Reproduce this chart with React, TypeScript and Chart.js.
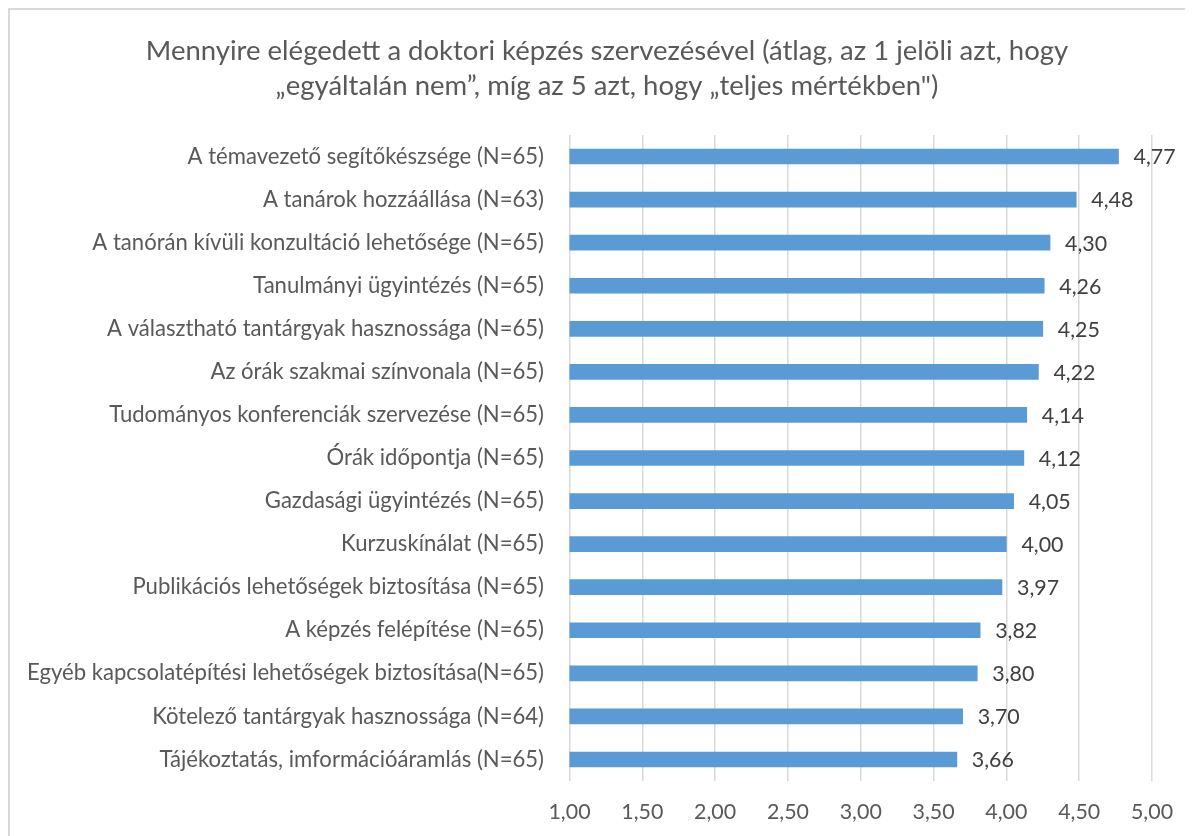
import React, { useEffect, useRef } from "react";
import { Chart, registerables } from "chart.js";

Chart.register(...registerables);

const titleLines = [
  "Mennyire elégedett a doktori képzés szervezésével (átlag, az 1 jelöli azt, hogy",
  "„egyáltalán nem”, míg az 5 azt, hogy „teljes mértékben\")",
];

const categories = [
  "A témavezető segítőkészsége (N=65)",
  "A tanárok hozzáállása (N=63)",
  "A tanórán kívüli konzultáció lehetősége (N=65)",
  "Tanulmányi ügyintézés (N=65)",
  "A választható tantárgyak hasznossága (N=65)",
  "Az órák szakmai színvonala (N=65)",
  "Tudományos konferenciák szervezése (N=65)",
  "Órák időpontja (N=65)",
  "Gazdasági ügyintézés (N=65)",
  "Kurzuskínálat (N=65)",
  "Publikációs lehetőségek biztosítása (N=65)",
  "A képzés felépítése (N=65)",
  "Egyéb kapcsolatépítési lehetőségek biztosítása(N=65)",
  "Kötelező tantárgyak hasznossága (N=64)",
  "Tájékoztatás, imformációáramlás (N=65)",
];

const values = [4.77, 4.48, 4.3, 4.26, 4.25, 4.22, 4.14, 4.12, 4.05, 4.0, 3.97, 3.82, 3.8, 3.7, 3.66];

const xMin = 1;
const xMax = 5;
const xStep = 0.5;

const FONT = "Lato, 'Open Sans', sans-serif";

const fmt = (v: number) => v.toFixed(2).replace(".", ",");

function fitSize(text: string, target: number): number {
  const c = document.createElement("canvas").getContext("2d")!;
  c.font = `100px ${FONT}`;
  const w = c.measureText(text).width;
  return Math.round(((100 * target) / w) * 10) / 10;
}

export default function App() {
  const ref = useRef<HTMLCanvasElement>(null);

  useEffect(() => {
    document.documentElement.style.overflow = "hidden";
    document.body.style.overflow = "hidden";
    const canvas = ref.current!;

    const longest = categories.reduce((a, b) => (b.length > a.length ? b : a), "");
    const labelSize = fitSize(longest, 517);
    const tickSize = fitSize("1,00", 42);
    const titleSize = fitSize(titleLines[0], 922);

    const titleAndValues = {
      id: "titleAndValues",
      afterDraw(chart: any) {
        const ctx = chart.ctx;
        ctx.save();
        ctx.font = `${titleSize}px ${FONT}`;
        ctx.fillStyle = "#595959";
        ctx.textAlign = "center";
        ctx.textBaseline = "middle";
        titleLines.forEach((line, i) => ctx.fillText(line, 597, 41 + i * 35));
        ctx.restore();
      },
      afterDatasetsDraw(chart: any) {
        const ctx = chart.ctx;
        const meta = chart.getDatasetMeta(0);
        ctx.save();
        ctx.font = `${tickSize}px ${FONT}`;
        ctx.fillStyle = "#404040";
        ctx.textAlign = "left";
        ctx.textBaseline = "middle";
        meta.data.forEach((bar: any, i: number) => {
          ctx.fillText(fmt(values[i]), bar.x + 15, bar.y + 1);
        });
        ctx.restore();
      },
    };

    const chart = new Chart(canvas, {
      type: "bar",
      data: {
        labels: categories,
        datasets: [
          {
            data: values,
            backgroundColor: "#5B9BD5",
            barThickness: 15,
          },
        ],
      },
      options: {
        indexAxis: "y",
        responsive: false,
        animation: false,
        layout: { padding: { left: 0, right: 41, top: 125, bottom: 10 } },
        plugins: {
          legend: { display: false },
          tooltip: { enabled: false },
          title: { display: false },
        },
        scales: {
          x: {
            min: xMin,
            max: xMax,
            border: { display: false },
            grid: { color: "#d9d9d9", lineWidth: 1.5, drawTicks: false },
            afterFit: (scale: any) => {
              scale.height = 45;
            },
            ticks: {
              stepSize: xStep,
              padding: 18,
              color: "#595959",
              font: { family: FONT, size: tickSize },
              callback: (v: any) => fmt(Number(v)),
            },
          },
          y: {
            border: { display: false },
            grid: { display: false, drawTicks: false },
            afterFit: (scale: any) => {
              scale.width = 559.5;
            },
            ticks: {
              padding: 25.5,
              color: "#595959",
              font: { family: FONT, size: labelSize },
            },
          },
        },
      },
      plugins: [titleAndValues],
    });

    return () => chart.destroy();
  }, []);

  return (
    <div
      style={{
        width: 1185,
        height: 828,
        boxSizing: "border-box",
        borderTop: "2px solid #d9d9d9",
        borderLeft: "2px solid #d9d9d9",
        background: "#fff",
      }}
    >
      <canvas ref={ref} width={1183} height={826} style={{ display: "block", width: 1183, height: 826 }} />
    </div>
  );
}
